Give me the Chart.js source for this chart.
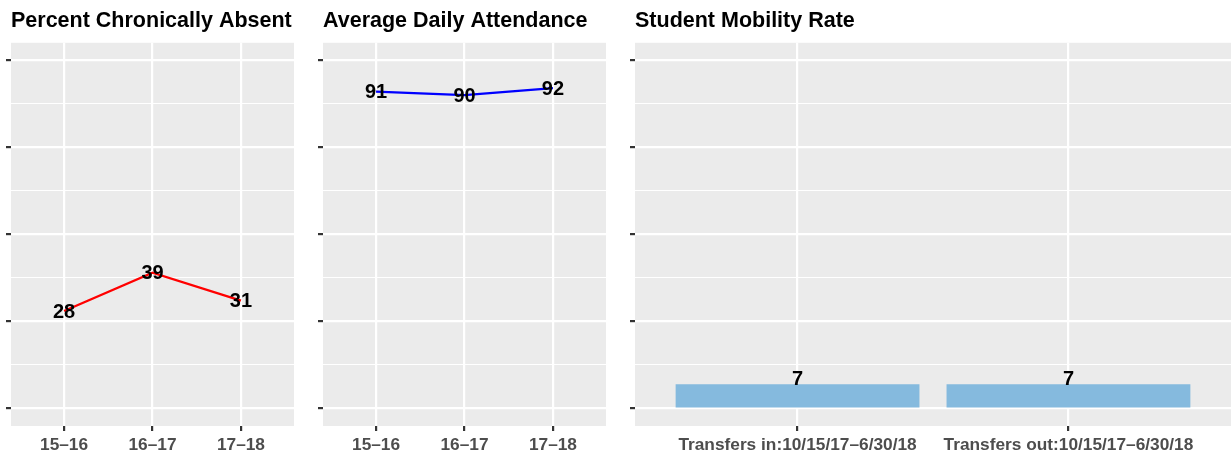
<!DOCTYPE html>
<html>
<head>
<meta charset="utf-8">
<title>School indicators</title>
<script src="https://cdn.jsdelivr.net/npm/chart.js@4/dist/chart.umd.min.js"></script>
<style>
  body { margin: 0; background: #ffffff; }
  .wrap { position: relative; width: 1231px; height: 455px; }
  .wrap canvas { position: absolute; top: 0; }
</style>
</head>
<body>
<div class="wrap">
  <canvas id="absentChart" width="300" height="455" style="left:0px"></canvas>
  <canvas id="attendChart" width="312" height="455" style="left:300px"></canvas>
  <canvas id="mobilityChart" width="619" height="455" style="left:612px"></canvas>
</div>
<script>
  // data
  const years = ['15–16', '16–17', '17–18'];
  const absentPct = [28, 39, 31];
  const dailyAttendance = [91, 90, 92];
  const mobilityCats = ['Transfers in:10/15/17–6/30/18', 'Transfers out:10/15/17–6/30/18'];
  const mobilityVals = [7, 7];
  const yMajor = [0, 25, 50, 75, 100];
  const yMinor = [12.5, 37.5, 62.5, 87.5];

  Chart.defaults.font.family = '"Liberation Sans", Arial, sans-serif';
  Chart.defaults.animation = false;

  const isMajor = v => yMajor.includes(v);

  // grey ggplot-style panel
  const panelBg = {
    id: 'panelBg',
    beforeDraw(chart) {
      const a = chart.chartArea, ctx = chart.ctx;
      ctx.save();
      ctx.fillStyle = '#EBEBEB';
      ctx.fillRect(a.left, a.top, a.right - a.left, a.bottom - a.top);
      ctx.restore();
    }
  };

  // value labels on points / bars
  const valueLabels = {
    id: 'valueLabels',
    afterDatasetsDraw(chart) {
      const ctx = chart.ctx;
      const isBar = chart.config.type === 'bar';
      ctx.save();
      ctx.font = 'bold 20px "Liberation Sans", Arial, sans-serif';
      ctx.fillStyle = '#000000';
      ctx.textAlign = 'center';
      ctx.textBaseline = isBar ? 'alphabetic' : 'middle';
      chart.data.datasets.forEach((ds, i) => {
        chart.getDatasetMeta(i).data.forEach((el, j) => {
          ctx.fillText(String(ds.data[j].y), el.x, isBar ? el.y + 1 : el.y + 1);
        });
      });
      ctx.restore();
    }
  };

  function yScale() {
    return {
      type: 'linear',
      min: -5,
      max: 105,
      afterBuildTicks: s => {
        s.ticks = yMajor.concat(yMinor).sort((a, b) => a - b).map(v => ({ value: v }));
      },
      ticks: { display: false },
      border: { display: false },
      grid: {
        color: '#FFFFFF',
        lineWidth: c => isMajor(c.tick.value) ? 2.2 : 1.1,
        tickColor: c => isMajor(c.tick.value) ? '#333333' : 'rgba(0,0,0,0)',
        tickLength: 5,
        tickWidth: 2.2
      }
    };
  }

  function xScale(cats) {
    return {
      type: 'linear',
      min: -0.6,
      max: cats.length - 0.4,
      offset: false,
      afterBuildTicks: s => {
        s.ticks = cats.map((c, i) => ({ value: i }));
      },
      afterFit: s => { s.height = 29; },
      ticks: {
        callback: v => cats[v],
        autoSkip: false,
        maxRotation: 0,
        padding: 4,
        color: '#4D4D4D',
        font: { size: 17.3, weight: 'bold' }
      },
      border: { display: false },
      grid: {
        offset: false,
        color: '#FFFFFF',
        lineWidth: 2.2,
        tickColor: '#333333',
        tickLength: 5,
        tickWidth: 2.2
      }
    };
  }

  function titleOpts(text) {
    return {
      display: true,
      text: text,
      align: 'start',
      fullSize: false,
      color: '#000000',
      font: { size: 21.5, weight: 'bold' },
      padding: { top: 8, bottom: 9 }
    };
  }

  function lineChart(id, title, values, color, padL, padR) {
    return new Chart(document.getElementById(id), {
      type: 'line',
      data: {
        datasets: [{
          data: values.map((v, i) => ({ x: i, y: v })),
          borderColor: color,
          borderWidth: 2.3,
          pointRadius: 0,
          tension: 0
        }]
      },
      options: {
        responsive: false,
        layout: { padding: { left: padL, right: padR, top: 0, bottom: 0 } },
        plugins: {
          legend: { display: false },
          tooltip: { enabled: false },
          title: titleOpts(title)
        },
        scales: { x: xScale(years), y: yScale() }
      },
      plugins: [panelBg, valueLabels]
    });
  }

  lineChart('absentChart', 'Percent Chronically Absent', absentPct, '#FF0000', 6, 6);
  lineChart('attendChart', 'Average Daily Attendance', dailyAttendance, '#0000FF', 18, 6);

  new Chart(document.getElementById('mobilityChart'), {
    type: 'bar',
    data: {
      datasets: [{
        data: mobilityVals.map((v, i) => ({ x: i, y: v })),
        backgroundColor: '#85BADE',
        barPercentage: 0.9,
        categoryPercentage: 1
      }]
    },
    options: {
      responsive: false,
      layout: { padding: { left: 18, right: 0, top: 0, bottom: 0 } },
      plugins: {
        legend: { display: false },
        tooltip: { enabled: false },
        title: titleOpts('Student Mobility Rate')
      },
      scales: { x: xScale(mobilityCats), y: yScale() }
    },
    plugins: [panelBg, valueLabels]
  });
</script>
</body>
</html>
